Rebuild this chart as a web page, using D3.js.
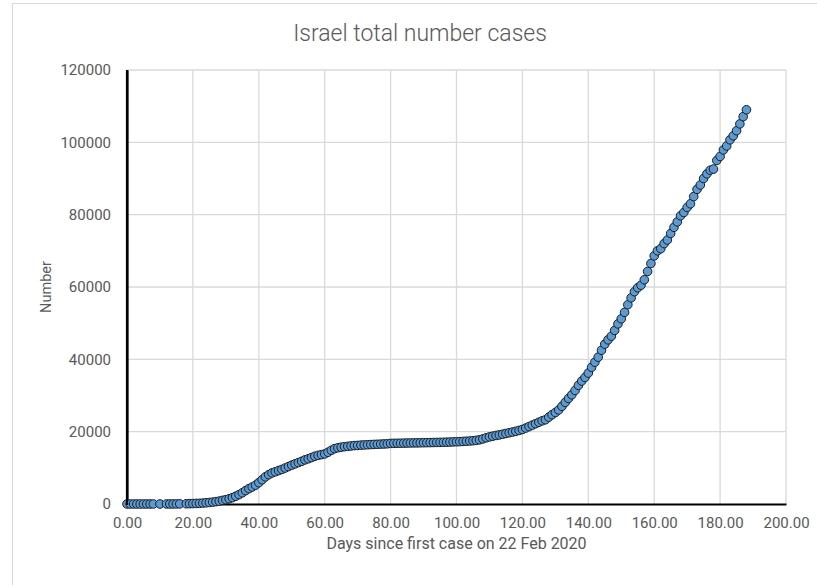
<!DOCTYPE html>
<html>
<head>
<meta charset="utf-8">
<script src="https://cdn.jsdelivr.net/npm/d3@7"></script>
<style>
  html, body { margin: 0; padding: 0; background: #fff; }
  svg { display: block; }
  text { font-family: Roboto, "Liberation Sans", sans-serif; fill: #595959; }
</style>
</head>
<body>
<svg id="chart" width="817" height="585"></svg>
<script>
// ---- data ----
const days = [
  0,1,2,3,4,5,6,7,8,10,12,13,14,15,16,
  18,19,20,21,22,23,24,25,26,27,28,29,30,31,32,33,34,35,36,37,38,39,40,
  41,42,43,44,45,46,47,48,49,50,51,52,53,54,55,56,57,58,59,60,
  61,62,63,64,65,66,67,68,69,70,71,72,73,74,75,76,77,78,79,80,
  81,82,83,84,85,86,87,88,89,90,91,92,93,94,95,96,97,98,99,100,
  101,102,103,104,105,106,107,108,109,110,111,112,113,114,115,116,117,118,119,120,
  121,122,123,124,125,126,127,128,129,130,131,132,133,134,135,136,137,138,139,140,
  141,142,143,144,145,146,147,148,149,150,151,152,153,154,155,156,157,158,159,160,
  161,162,163,164,165,166,167,168,169,170,171,172,173,174,175,176,177,178,179,180,
  181,182,183,184,185,186,187,188
];
const cases = [
  1,1,1,1,1,2,2,2,3,4,10,12,15,20,30,
  60,90,120,160,200,260,330,420,530,650,800,1000,1200,1450,1750,2150,2600,3100,3700,4250,4700,5200,5900,
  6700,7500,8100,8600,8900,9250,9550,9950,10350,10750,11100,11450,11800,12200,12500,12850,13200,13450,13650,13850,
  14300,14850,15300,15550,15700,15850,15950,16050,16150,16200,16280,16330,16380,16430,16480,16520,16560,16600,16640,16750,
  16770,16790,16810,16830,16850,16870,16890,16900,16920,16940,16960,16980,17000,17020,17040,17070,17100,17130,17160,17200,
  17250,17300,17360,17420,17500,17600,17750,18000,18300,18550,18750,18950,19100,19300,19500,19700,19900,20100,20350,20600,
  21000,21400,21800,22200,22600,23000,23300,24000,24700,25300,26000,27000,28100,29200,30200,31400,32800,34000,35000,36200,
  37800,39200,40600,42500,44200,45400,46400,48000,49800,51200,53000,55100,57000,58700,59800,60500,62000,64300,66500,68600,
  70000,70600,72000,73000,74800,76500,78000,79700,80600,82000,83000,85000,87000,88200,90000,91300,92300,92600,95000,96100,
  97900,99000,100700,101800,103200,105100,107100,109000
];
const xTicks = [0,20,40,60,80,100,120,140,160,180,200];
const yTicks = [0,20000,40000,60000,80000,100000,120000];
const titleText = "Israel total number cases";
const xTitle = "Days since first case on 22 Feb 2020";
const yTitle = "Number";

// ---- layout ----
const svg = d3.select("#chart");
const plot = { left: 127, right: 786, top: 70, bottom: 504 };

// chart area border
svg.append("rect")
  .attr("x", 12.5).attr("y", 3.5)
  .attr("width", 830).attr("height", 600)
  .attr("fill", "#fff").attr("stroke", "#d9d9d9").attr("stroke-width", 1);

const x = d3.scaleLinear().domain([0, 200]).range([plot.left, plot.right]);
const y = d3.scaleLinear().domain([0, 120000]).range([plot.bottom, plot.top]);

// gridlines
const grid = svg.append("g");
grid.selectAll("line.v").data(xTicks.filter(d => d > 0)).enter().append("line")
  .attr("x1", d => x(d)).attr("x2", d => x(d))
  .attr("y1", plot.top).attr("y2", plot.bottom)
  .attr("stroke", "#d9d9d9").attr("stroke-width", 1.3);
grid.selectAll("line.h").data(yTicks.filter(d => d > 0)).enter().append("line")
  .attr("x1", plot.left).attr("x2", plot.right)
  .attr("y1", d => y(d)).attr("y2", d => y(d))
  .attr("stroke", "#d9d9d9").attr("stroke-width", 1.3);

// axes
const xAxis = svg.append("g").attr("transform", `translate(0,${plot.bottom})`)
  .call(d3.axisBottom(x).tickValues(xTicks).tickFormat(d3.format(".2f")).tickSize(0).tickPadding(13));
const yAxis = svg.append("g").attr("transform", `translate(${plot.left},0)`)
  .call(d3.axisLeft(y).tickValues(yTicks).tickFormat(d => String(d)).tickSize(0).tickPadding(16));
[xAxis, yAxis].forEach(a => {
  a.select(".domain").attr("stroke", "#000").attr("stroke-width", 2.2);
  a.selectAll("text").attr("font-size", 15).attr("fill", "#4a4a4a")
    .attr("font-family", "Roboto, 'Liberation Sans', sans-serif");
});

// points
svg.append("g").selectAll("circle").data(days.map((d, i) => [d, cases[i]])).enter()
  .append("circle")
  .attr("cx", d => x(d[0])).attr("cy", d => y(d[1]))
  .attr("r", 4.3)
  .attr("fill", "#5B9BD5").attr("stroke", "#1b1b1b").attr("stroke-width", 1);

// redraw axis lines on top of points
svg.append("line").attr("x1", plot.left).attr("x2", plot.left).attr("y1", plot.top).attr("y2", plot.bottom + 1)
  .attr("stroke", "#000").attr("stroke-width", 2.2);

// titles
svg.append("text").attr("x", 420).attr("y", 41).attr("text-anchor", "middle")
  .attr("font-size", 23).attr("font-weight", 300).text(titleText);
svg.append("text").attr("x", (plot.left + plot.right) / 2).attr("y", 549).attr("text-anchor", "middle")
  .attr("font-size", 16).attr("fill", "#4a4a4a").text(xTitle);
svg.append("text").attr("transform", `translate(51,${(plot.top + plot.bottom) / 2}) rotate(-90)`)
  .attr("text-anchor", "middle").attr("font-size", 14.5).attr("fill", "#4a4a4a").text(yTitle);
</script>
</body>
</html>
